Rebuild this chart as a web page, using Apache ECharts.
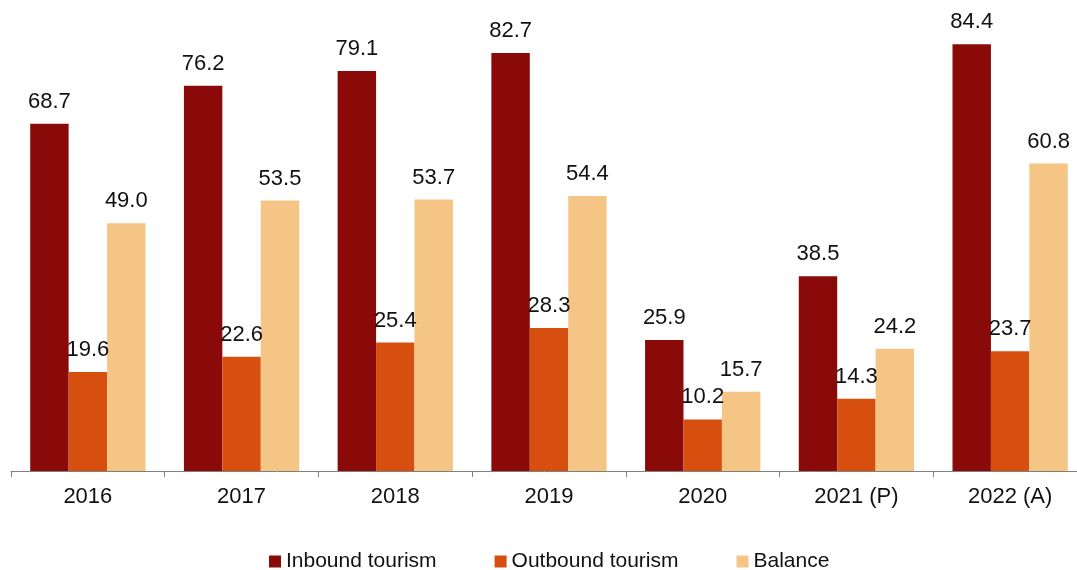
<!DOCTYPE html>
<html>
<head>
<meta charset="utf-8">
<script src="https://cdn.jsdelivr.net/npm/echarts@6/dist/echarts.min.js"></script>
<style>
  html, body { margin: 0; padding: 0; background: #fff; }
  #chart { width: 1077px; height: 570px; }
</style>
</head>
<body>
<div id="chart"></div>
<script>
// categories and values
let years = ["2016", "2017", "2018", "2019", "2020", "2021 (P)", "2022 (A)"];
let inboundData = [68.7, 76.2, 79.1, 82.7, 25.9, 38.5, 84.4];
let outboundData = [19.6, 22.6, 25.4, 28.3, 10.2, 14.3, 23.7];
let balanceData = [49.0, 53.5, 53.7, 54.4, 15.7, 24.2, 60.8];

let chart = echarts.init(document.getElementById("chart"));

let font = "Liberation Sans, Arial, sans-serif";

function barSeries(name, color, data) {
  return {
    name: name,
    type: "bar",
    barGap: 0,
    barCategoryGap: "25%",
    itemStyle: { color: color },
    label: {
      show: true,
      position: "top",
      distance: 11,
      color: "#111",
      fontSize: 22,
      fontFamily: font,
      formatter: function (p) {
        return p.value.toFixed(1);
      },
    },
    data: data,
  };
}

let option = {
  animation: false,
  textStyle: { fontFamily: font },
  legend: {
    left: 264,
    top: 546,
    itemWidth: 12,
    itemHeight: 12,
    itemGap: 58,
    icon: "rect",
    textStyle: { color: "#111", fontSize: 21, fontFamily: font },
    data: ["Inbound tourism", "Outbound tourism", "Balance"],
  },
  grid: {
    left: 11,
    top: 16,
    width: 1076,
    bottom: 99,
    outerBoundsMode: "none",
    containLabel: false,
  },
  xAxis: {
    type: "category",
    data: years,
    axisLine: { lineStyle: { color: "#808080", width: 1 } },
    axisTick: { show: true, length: 6, lineStyle: { color: "#808080" } },
    axisLabel: { color: "#111", fontSize: 22, fontFamily: font, margin: 15 },
  },
  yAxis: {
    type: "value",
    min: 0,
    max: 90,
    show: false,
    splitLine: { show: false },
  },
  series: [
    barSeries("Inbound tourism", "#8a0a0a", inboundData),
    barSeries("Outbound tourism", "#d64f0f", outboundData),
    barSeries("Balance", "#f5c585", balanceData),
  ],
};
chart.setOption(option);
</script>
</body>
</html>
